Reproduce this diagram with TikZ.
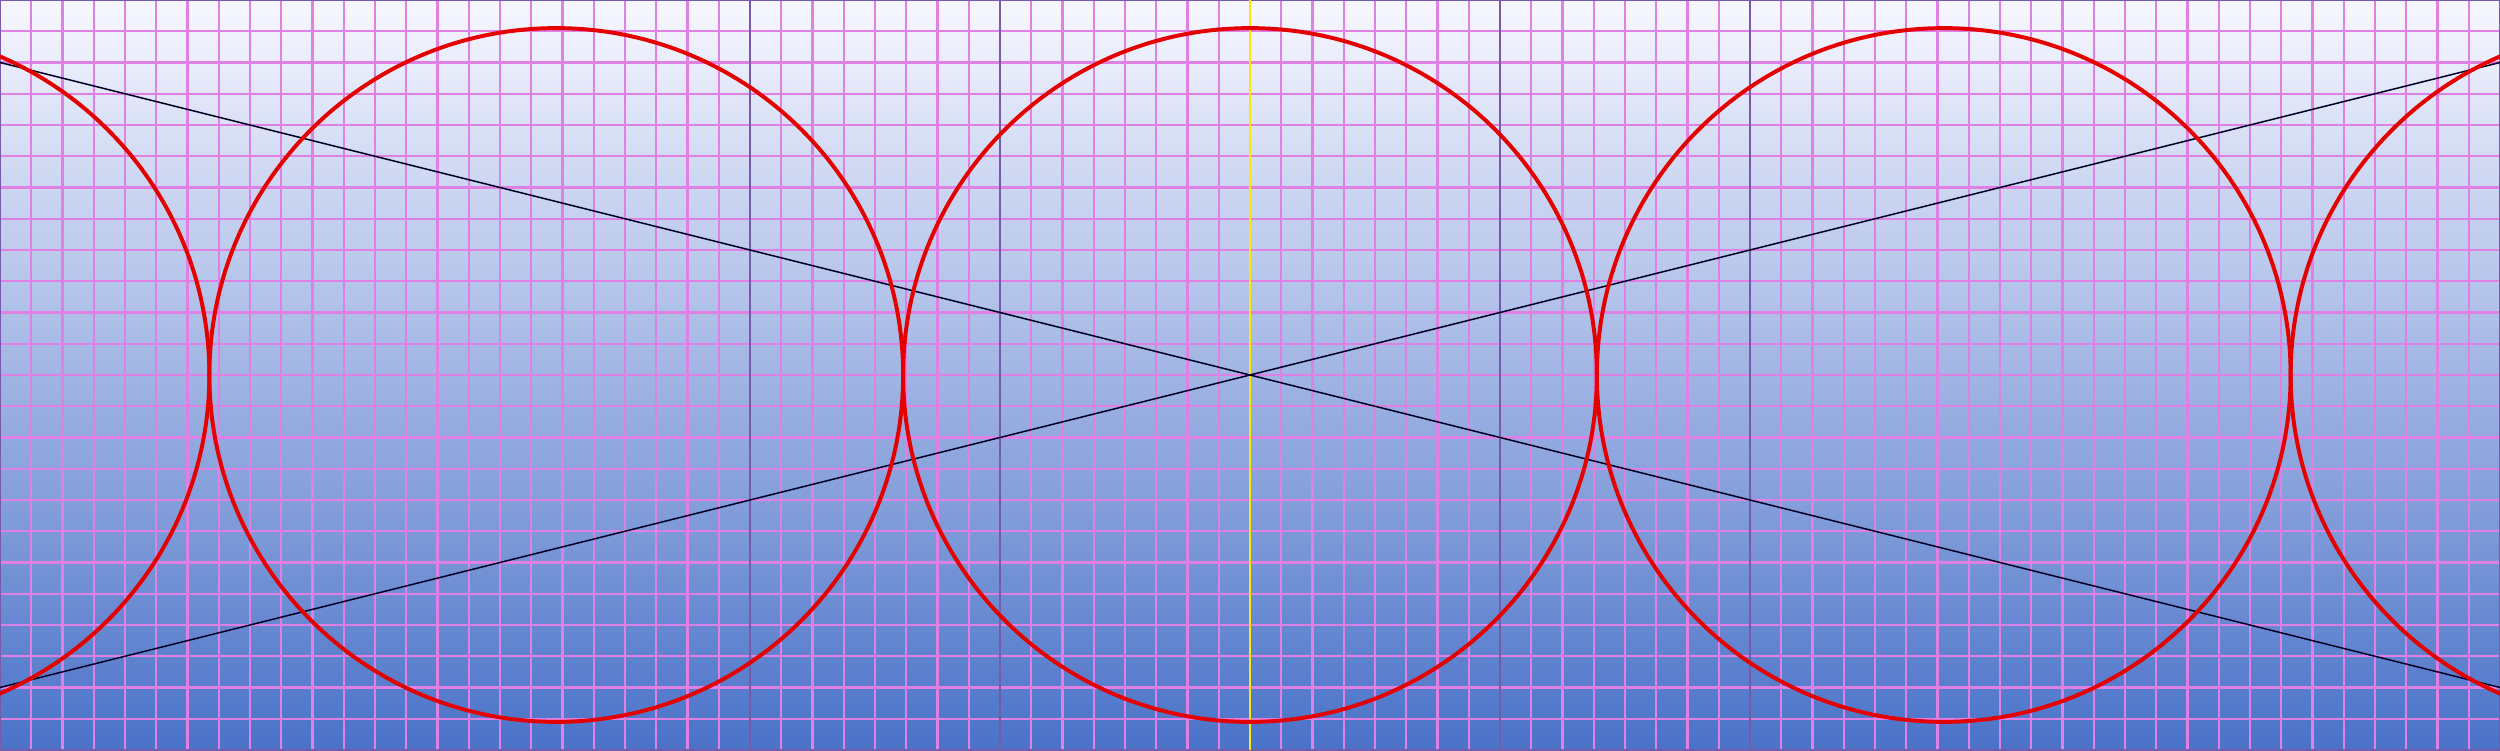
\documentclass[tikz,border=0pt]{standalone}
\usepackage{xcolor}
\usepackage{tikz}
\definecolor{gridpink}{RGB}{225,128,228}
\definecolor{guidepurple}{RGB}{120,90,170}
\definecolor{skyblue}{RGB}{170,189,232}
\definecolor{deepblue}{RGB}{74,114,200}
\tikzset{>=stealth}

\begin{document}
\begin{tikzpicture}
\clip (0,0) rectangle (20,6);
\shade [top color=white!97!blue, middle color=skyblue, bottom color=deepblue] (0,0) rectangle (20,6);
\draw [gridpink, line width=0.5pt, step=0.25] (0,0) grid (20,6);
\foreach \x in {6,8,12,14}
  \draw [guidepurple, line width=0.35pt] (\x,0)--(\x,6);
\draw [guidepurple, line width=0.6pt] (0,0) rectangle (20,6);
\draw [yellow!90!orange, line width=0.5pt] (10,0)--(10,6);

\coordinate (mid) at (10,3);
\coordinate (tl) at (0,5.5);
\coordinate (br) at (20,0.5);
\coordinate (bl) at (0,0.5);
\coordinate (tr) at (20,5.5);
\draw [black!85!blue, line width=0.35pt] (tl)--(mid)--(br);
\draw [black!85!blue, line width=0.35pt] (bl)--(mid)--(tr);

\foreach \x in {-1.1,4.45,10,15.55,21.1}
  \draw [red!90!black, line width=0.9pt] (\x,3) circle [radius=2.775];
\end{tikzpicture}
\end{document}
